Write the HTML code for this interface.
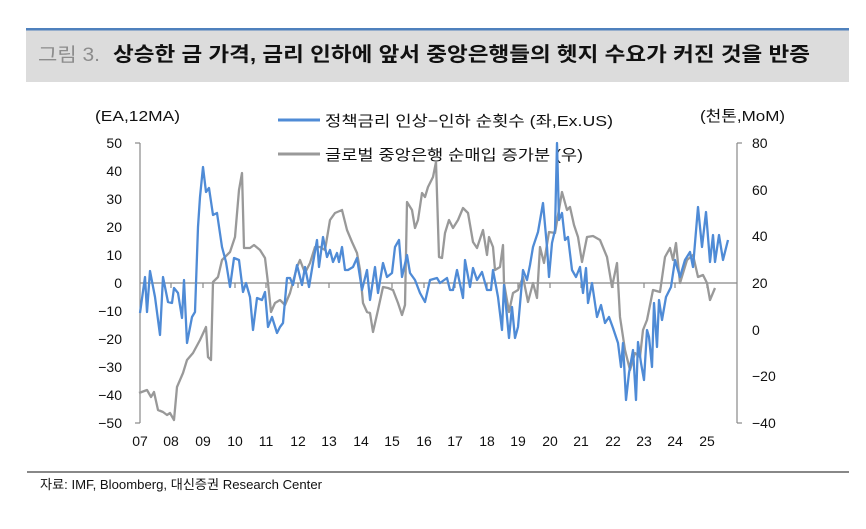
<!DOCTYPE html>
<html><head><meta charset="utf-8"><style>
body{margin:0;background:#fff;width:866px;height:524px;overflow:hidden}
svg text{font-family:"Liberation Sans","Noto Sans CJK KR",sans-serif}
</style></head><body>
<svg width="866" height="524" viewBox="0 0 866 524" xmlns="http://www.w3.org/2000/svg">
<rect x="26" y="29" width="823" height="53" fill="#dcdcdc"/>
<rect x="26" y="28" width="823" height="2.5" fill="#4f81bd"/>
<text x="38" y="61" font-size="19" fill="#8c8c8c" textLength="62" lengthAdjust="spacingAndGlyphs">그림 3.</text>
<text x="113" y="61" font-size="20" font-weight="bold" fill="#111" textLength="697" lengthAdjust="spacingAndGlyphs">상승한 금 가격, 금리 인하에 앞서 중앙은행들의 헷지 수요가 커진 것을 반증</text>

<g font-size="15" fill="#111">
<text x="95" y="121" textLength="85" lengthAdjust="spacingAndGlyphs">(EA,12MA)</text>
<text x="700" y="121" textLength="85" lengthAdjust="spacingAndGlyphs">(천톤,MoM)</text>
<text x="325" y="126" textLength="288" lengthAdjust="spacingAndGlyphs">정책금리 인상−인하 순횟수 (좌,Ex.US)</text>
<text x="325" y="160" textLength="258" lengthAdjust="spacingAndGlyphs">글로벌 중앙은행 순매입 증가분 (우)</text>
</g>
<line x1="278" y1="120" x2="320" y2="120" stroke="#4f8bd6" stroke-width="3"/>
<line x1="278" y1="154" x2="320" y2="154" stroke="#999" stroke-width="3"/>

<g stroke="#888" stroke-width="1.2" fill="none">
<line x1="140" y1="143" x2="140" y2="423"/>
<line x1="135" y1="143" x2="140" y2="143"/><line x1="135" y1="423" x2="140" y2="423"/>
<line x1="737" y1="143" x2="737" y2="423"/>
<line x1="737" y1="143" x2="742" y2="143"/><line x1="737" y1="423" x2="742" y2="423"/>
<line x1="140" y1="283" x2="737" y2="283"/>
<path d="M171 283v5M203 283v5M235 283v5M266 283v5M298 283v5M329 283v5M361 283v5M392 283v5M424 283v5M455 283v5M487 283v5M518 283v5M550 283v5M581 283v5M613 283v5M644 283v5M675 283v5M707 283v5"/>
</g>

<g font-size="14" fill="#111" text-anchor="end">
<text x="122" y="148">50</text><text x="122" y="176">40</text><text x="122" y="204">30</text><text x="122" y="232">20</text><text x="122" y="260">10</text><text x="122" y="288">0</text><text x="122" y="316">−10</text><text x="122" y="344">−20</text><text x="122" y="372">−30</text><text x="122" y="400">−40</text><text x="122" y="428">−50</text>
</g>
<g font-size="14" fill="#111">
<text x="752" y="148">80</text><text x="752" y="195">60</text><text x="752" y="241">40</text><text x="752" y="288">20</text><text x="752" y="335">0</text><text x="752" y="381">−20</text><text x="752" y="428">−40</text>
</g>
<g font-size="14" fill="#111" text-anchor="middle">
<text x="140" y="446">07</text><text x="171" y="446">08</text><text x="203" y="446">09</text><text x="235" y="446">10</text><text x="266" y="446">11</text><text x="298" y="446">12</text><text x="329" y="446">13</text><text x="361" y="446">14</text><text x="392" y="446">15</text><text x="424" y="446">16</text><text x="455" y="446">17</text><text x="487" y="446">18</text><text x="518" y="446">19</text><text x="550" y="446">20</text><text x="581" y="446">21</text><text x="613" y="446">22</text><text x="644" y="446">23</text><text x="675" y="446">24</text><text x="707" y="446">25</text>
</g>

<polyline fill="none" stroke="#999" stroke-width="2.3" stroke-linejoin="round" points="139,393 147,390 151,397 154,392 158,410 163,412 167,415 170,413 174,420 177,387 183,373 187,360 193,353 200,340 206,327 208,357 211,360 213,282 218,277 222,260 230,252 235,237 239,190 242,173 244,248 250,248 254,245 260,250 265,258 268,283 271,312 275,303 280,300 285,305 290,293 297,267 300,260 305,273 310,263 315,247 320,247 325,250 330,220 335,213 342,210 347,230 352,242 357,253 360,270 363,303 367,312 370,313 373,332 378,310 383,287 388,288 393,290 398,303 402,315 405,305 407,202 412,210 415,228 418,220 422,193 425,197 428,187 433,177 436,162 439,257 442,258 445,233 449,220 453,228 458,220 463,208 468,213 473,242 477,248 483,230 487,255 489,237 493,247 495,270 500,267 503,245 504,283 509,312 513,293 518,290 523,277 528,302 533,283 537,298 540,247 544,263 549,232 555,233 562,192 567,210 570,207 574,225 578,237 582,262 587,237 593,236 600,240 607,257 612,287 617,263 620,317 625,350 630,370 635,353 640,357 643,330 647,320 653,290 660,292 665,257 670,248 673,260 676,243 680,283 687,260 693,255 698,277 703,275 707,283 710,300 715,288"/>

<polyline fill="none" stroke="#4f8bd6" stroke-width="2.3" stroke-linejoin="round" points="140,313 145,277 147,312 150,271 155,297 160,335 163,277 168,302 172,303 174,288 178,293 182,318 184,280 187,343 192,317 195,312 198,227 200,197 203,167 206,192 209,188 213,215 217,213 222,247 226,262 230,287 234,258 239,260 243,292 246,283 250,297 253,330 257,298 262,300 265,292 268,327 272,317 277,333 280,327 283,323 287,278 290,278 293,285 297,265 302,285 305,267 309,287 313,263 317,240 319,267 323,237 327,257 330,250 333,262 337,253 339,262 342,247 345,270 348,270 353,267 357,258 362,290 367,270 370,300 375,267 378,293 383,263 387,277 392,273 395,247 399,240 402,277 407,255 410,273 415,280 420,293 425,302 430,280 437,278 440,283 447,278 450,290 453,290 457,270 463,298 465,260 470,287 473,268 477,280 482,272 487,290 491,290 493,270 498,297 502,330 504,285 509,338 512,307 515,338 518,327 523,270 527,280 530,265 533,247 538,232 543,203 547,247 549,277 552,243 555,230 557,143 559,220 562,213 565,240 568,237 572,270 576,277 580,267 583,293 586,268 588,303 592,283 597,317 601,305 605,323 609,317 613,328 618,343 621,367 623,343 626,400 629,373 633,350 636,400 638,342 641,363 644,380 647,330 649,337 652,367 654,303 657,347 659,300 662,320 666,297 671,287 675,260 680,277 685,260 690,252 693,267 698,207 702,247 706,212 710,262 713,235 715,262 719,235 723,260 728,240"/>

<line x1="27" y1="472" x2="849" y2="472" stroke="#888" stroke-width="2"/>
<text x="40" y="489" font-size="13" fill="#111" textLength="282" lengthAdjust="spacingAndGlyphs">자료: IMF, Bloomberg, 대신증권 Research Center</text>
</svg>
</body></html>
